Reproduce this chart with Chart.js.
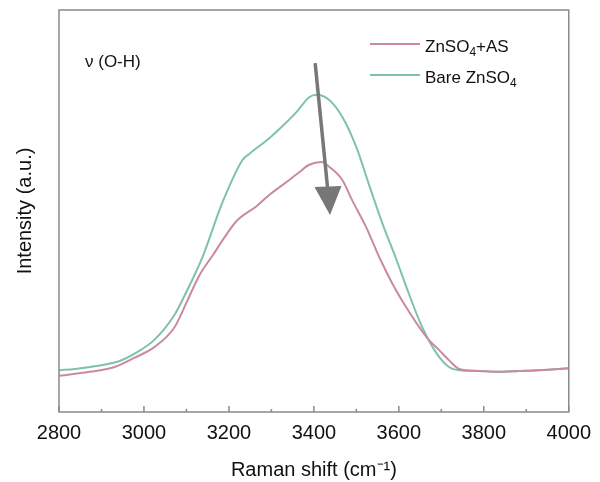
<!DOCTYPE html>
<html>
<head>
<meta charset="utf-8">
<script src="https://cdn.jsdelivr.net/npm/chart.js@4/dist/chart.umd.min.js"></script>
<style>
  html, body { margin: 0; padding: 0; background: #fff; }
  #wrap { width: 600px; height: 482px; }
</style>
</head>
<body>
<div id="wrap"><canvas id="raman"></canvas></div>
<script>
// Raman shift (cm-1) and intensity (a.u.)
var bareShift = [2800, 2838, 2873, 2943, 2978, 3025, 3072, 3100, 3138, 3185, 3232, 3248, 3295, 3319, 3359, 3389, 3406, 3436, 3467, 3500, 3530, 3561, 3594, 3624, 3655, 3688, 3718, 3742, 3789, 3835, 3882, 3929, 3976, 4000];
var bareVals  = [104, 107, 112, 127, 145, 180, 242, 299, 386, 522, 627, 642, 681, 704, 746, 783, 789, 776, 734, 659, 565, 470, 380, 293, 211, 147, 112, 104, 102, 100, 102, 104, 107, 109];

var asShift = [2800, 2838, 2873, 2931, 2978, 3025, 3072, 3103, 3131, 3162, 3190, 3218, 3265, 3295, 3342, 3366, 3389, 3418, 3436, 3467, 3490, 3523, 3554, 3584, 3617, 3648, 3671, 3695, 3718, 3742, 3789, 3835, 3882, 3929, 3976, 4000];
var asVals  = [90, 95, 100, 112, 135, 162, 211, 279, 341, 390, 435, 475, 512, 540, 577, 597, 615, 622, 610, 577, 527, 460, 385, 321, 261, 211, 179, 154, 129, 107, 102, 100, 102, 104, 107, 109];

var xTicks = [2800, 3000, 3200, 3400, 3600, 3800, 4000];
var xMinor = [2900, 3100, 3300, 3500, 3700, 3900];

var seriesNames = ['ZnSO4+AS', 'Bare ZnSO4'];
var pink = '#c98b9d';
var green = '#7ec1ad';

function pts(xs, ys) {
  return xs.map(function(x, i){ return {x: x, y: ys[i]}; });
}

// frame, inward ticks, arrow, label and legend
var extras = {
  id: 'extras',
  afterDraw: function(chart) {
    var ctx = chart.ctx, a = chart.chartArea;
    var xs = chart.scales.x, ys = chart.scales.y;
    ctx.save();
    ctx.strokeStyle = '#8a8a8a';
    ctx.lineWidth = 1.5;
    ctx.strokeRect(a.left, a.top, a.right - a.left, a.bottom - a.top);
    ctx.beginPath();
    xTicks.forEach(function(t){
      var px = xs.getPixelForValue(t);
      ctx.moveTo(px, a.bottom); ctx.lineTo(px, a.bottom - 6);
    });
    xMinor.forEach(function(t){
      var px = xs.getPixelForValue(t);
      ctx.moveTo(px, a.bottom); ctx.lineTo(px, a.bottom - 3);
    });
    ctx.stroke();

    // arrow
    var x0 = xs.getPixelForValue(3403), y0 = ys.getPixelForValue(868);
    var x1 = xs.getPixelForValue(3432), y1 = ys.getPixelForValue(560);
    var tip = {x: xs.getPixelForValue(3438), y: ys.getPixelForValue(490)};
    ctx.strokeStyle = '#777';
    ctx.fillStyle = '#777';
    ctx.lineWidth = 3.5;
    ctx.beginPath(); ctx.moveTo(x0, y0); ctx.lineTo(x1, y1); ctx.stroke();
    ctx.beginPath();
    ctx.moveTo(x1 - 13, y1); ctx.lineTo(x1 + 14, y1 - 1); ctx.lineTo(tip.x, tip.y);
    ctx.closePath(); ctx.fill();

    ctx.fillStyle = '#111';
    ctx.font = '17px "Liberation Sans", Arial, sans-serif';
    ctx.textBaseline = 'alphabetic';
    ctx.fillText('\u03bd (O-H)', 85, 67);

    // legend
    var rows = [
      {c: pink, parts: [['ZnSO', 0], ['4', 1], ['+AS', 0]], y: 44},
      {c: green, parts: [['Bare ZnSO', 0], ['4', 1]], y: 75}
    ];
    rows.forEach(function(r){
      ctx.strokeStyle = r.c;
      ctx.lineWidth = 2;
      ctx.beginPath(); ctx.moveTo(370, r.y); ctx.lineTo(420, r.y); ctx.stroke();
      var tx = 425;
      r.parts.forEach(function(p){
        if (p[1]) {
          ctx.font = '12px "Liberation Sans", Arial, sans-serif';
          ctx.fillText(p[0], tx, r.y + 12);
        } else {
          ctx.font = '17px "Liberation Sans", Arial, sans-serif';
          ctx.fillText(p[0], tx, r.y + 8);
        }
        tx += ctx.measureText(p[0]).width;
      });
    });
    ctx.restore();
  }
};

new Chart(document.getElementById('raman'), {
  type: 'line',
  data: {
    datasets: [
      {
        label: seriesNames[0],
        data: pts(asShift, asVals),
        borderColor: pink,
        borderWidth: 2,
        pointRadius: 0,
        cubicInterpolationMode: 'monotone'
      },
      {
        label: seriesNames[1],
        data: pts(bareShift, bareVals),
        borderColor: green,
        borderWidth: 2,
        pointRadius: 0,
        cubicInterpolationMode: 'monotone'
      }
    ]
  },
  options: {
    responsive: true,
    maintainAspectRatio: false,
    animation: false,
    layout: { padding: { top: 10, right: 28, left: 0, bottom: 0 } },
    plugins: { legend: { display: false }, tooltip: { enabled: false } },
    scales: {
      x: {
        type: 'linear',
        min: 2800, max: 4000,
        afterBuildTicks: function(s){ s.ticks = xTicks.map(function(v){ return {value: v}; }); },
        grid: { display: false, drawTicks: false },
        border: { display: false },
        ticks: {
          color: '#111', padding: 9, maxRotation: 0,
          callback: function(v){ return String(v); },
          font: { family: '"Liberation Sans", Arial, sans-serif', size: 20 }
        },
        title: {
          display: true,
          text: 'Raman shift (cm\u207b\u00b9)',
          color: '#111',
          padding: { top: 2, bottom: 0 },
          font: { family: '"Liberation Sans", Arial, sans-serif', size: 20 }
        },
        afterFit: function(s){ s.height = 70; }
      },
      y: {
        min: 0, max: 1000,
        grid: { display: false, drawTicks: false },
        border: { display: false },
        ticks: { display: false },
        title: {
          display: true,
          text: 'Intensity (a.u.)',
          color: '#111',
          padding: { top: 13, bottom: 0 },
          font: { family: '"Liberation Sans", Arial, sans-serif', size: 20 }
        },
        afterFit: function(s){ s.width = 59; }
      }
    }
  },
  plugins: [extras]
});
</script>
</body>
</html>
